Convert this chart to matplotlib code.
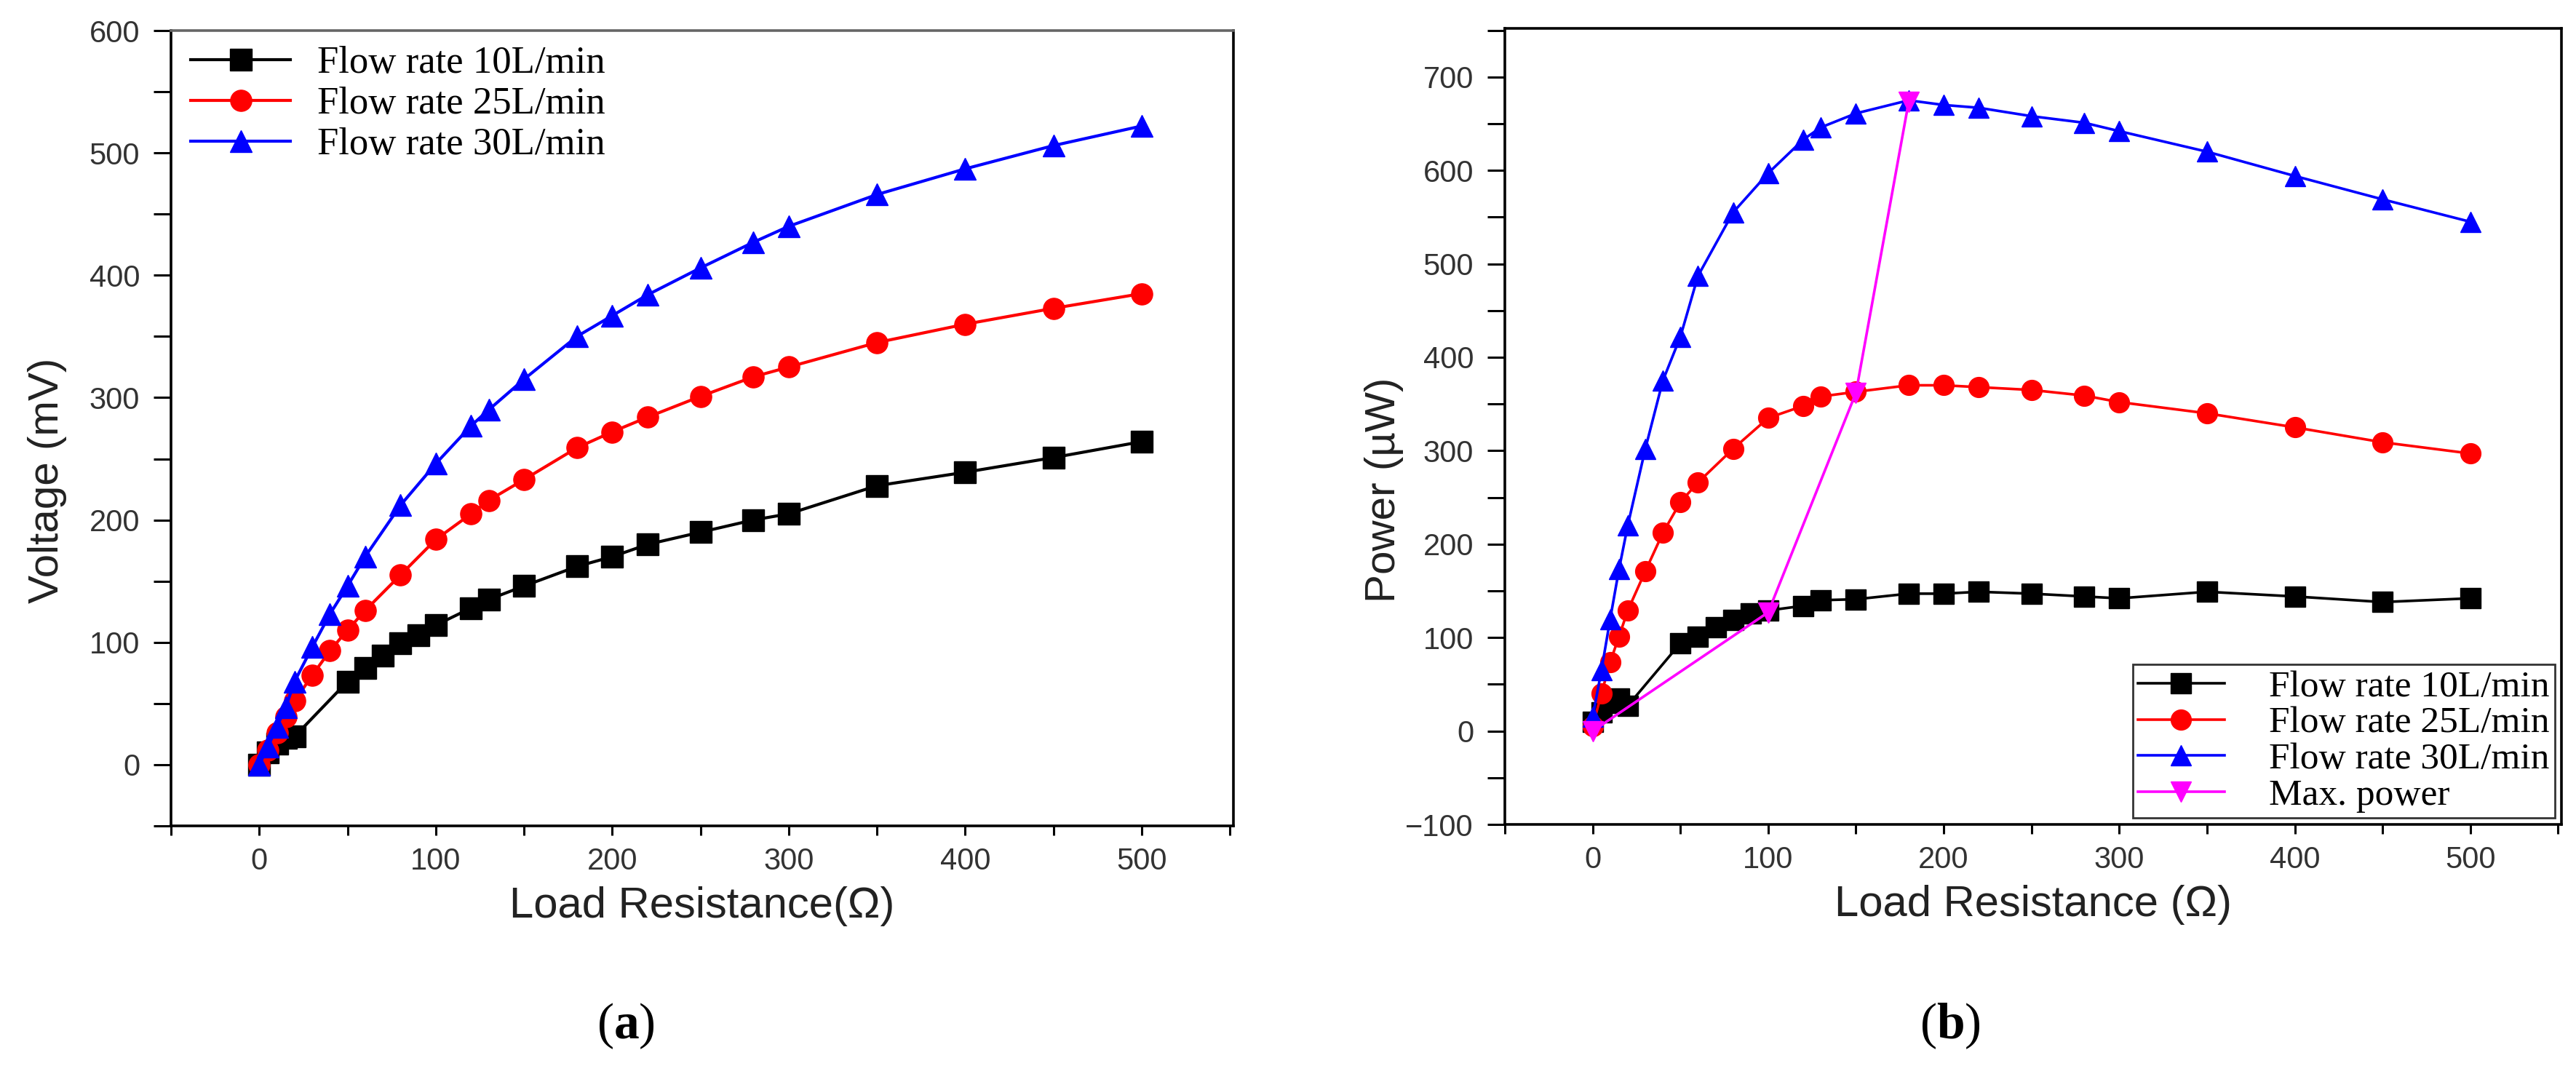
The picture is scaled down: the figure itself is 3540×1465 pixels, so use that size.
import matplotlib
matplotlib.use("Agg")
import matplotlib.pyplot as plt
import numpy as np

# Load resistance (ohm) for each flow rate
r_10 = [0, 5, 10, 15, 20, 50, 60, 70, 80, 90, 100, 120, 130, 150, 180, 200, 220, 250, 280, 300, 350, 400, 450, 500]
r_25 = [0, 5, 10, 15, 20, 30, 40, 50, 60, 80, 100, 120, 130, 150, 180, 200, 220, 250, 280, 300, 350, 400, 450, 500]
r_30 = [0, 5, 10, 15, 20, 30, 40, 50, 60, 80, 100, 120, 130, 150, 180, 200, 220, 250, 280, 300, 350, 400, 450, 500]

# (a) voltage, mV
v_10 = [0, 10, 17, 22, 23, 68, 79, 89, 99, 106, 114, 128, 135, 146, 162, 170, 180, 190, 200, 205, 228, 239, 251, 264]
v_25 = [0, 12, 26, 39, 52, 73, 93, 110, 126, 155, 184, 205, 216, 233, 259, 272, 284, 301, 317, 325, 345, 360, 373, 385]
v_30 = [0, 15, 31, 47, 68, 96, 123, 146, 170, 212, 246, 277, 290, 315, 350, 367, 384, 406, 427, 440, 466, 487, 506, 522]

# (b) power, uW
p_10 = [10, 20, 30, 35, 27, 94, 101, 111, 119, 126, 129, 134, 140, 141, 147, 147, 149, 147, 144, 142, 149, 144, 138, 142]
p_25 = [5, 40, 74, 101, 129, 171, 212, 245, 266, 302, 335, 348, 358, 363, 370, 370, 368, 365, 359, 352, 340, 325, 309, 297]
p_30 = [15, 65, 120, 173, 220, 302, 375, 422, 487, 555, 597, 633, 646, 661, 675, 670, 667, 658, 651, 642, 620, 594, 569, 545]

# maximum power points
r_max = [0, 100, 150, 180]
p_max = [0, 127, 362, 673]

labels = ["Flow rate 10L/min", "Flow rate 25L/min", "Flow rate 30L/min"]
colors = ["#000000", "#ff0000", "#0000ff"]
markers = ["s", "o", "^"]

SANS = "Liberation Sans"
SERIF = "Liberation Serif"
plt.rcParams["font.family"] = SANS
plt.rcParams["mathtext.fontset"] = "custom"
plt.rcParams["mathtext.rm"] = SERIF
plt.rcParams["mathtext.bf"] = SERIF + ":bold"

fig = plt.figure(figsize=(35.4, 14.65), dpi=100)
ax1 = fig.add_axes([0.0664, 0.2253, 0.4124, 0.746])
ax2 = fig.add_axes([0.5842, 0.2266, 0.4102, 0.7468])


def style_axes(ax, ymaj, ymin):
    ax.set_xlim(-50, 552)
    ax.set_xticks(np.arange(0, 501, 100))
    ax.set_xticks(np.arange(-50, 551, 100), minor=True)
    ax.set_yticks(ymaj)
    ax.set_yticks(ymin, minor=True)
    for s in ax.spines.values():
        s.set_linewidth(2.6)
    ax.tick_params(axis="x", which="both", direction="out", length=9, width=2.2,
                   pad=12, labelsize=30, labelcolor="#333333")
    ax.tick_params(axis="y", which="both", direction="out", length=17, width=2.2,
                   pad=14, labelsize=30, labelcolor="#333333")


# (a) voltage
for r, v, lab, c, m in zip([r_10, r_25, r_30], [v_10, v_25, v_30], labels, colors, markers):
    ax1.plot(r, v, color=c, marker=m, markersize=21, linewidth=3.0, label=lab)
ax1.set_ylim(-50, 600)
style_axes(ax1, np.arange(0, 601, 100), np.arange(-50, 600, 100))
ax1.spines["top"].set_color("#666666")
ax1.set_xlabel("Load Resistance(Ω)", fontsize=43, color="#222222", labelpad=10)
ax1.set_ylabel("Voltage (mV)", fontsize=42, color="#222222")
ax1.yaxis.set_label_coords(-0.098, 0.434)
leg1 = ax1.legend(loc="upper left", bbox_to_anchor=(0.004, 1.0), borderaxespad=0,
                  frameon=False, prop={"family": SERIF, "size": 38}, numpoints=1,
                  handlelength=2.6, handletextpad=0.7, labelspacing=0.15, borderpad=0.4)

# (b) power
for r, p, lab, c, m in zip([r_10, r_25, r_30], [p_10, p_25, p_30], labels, colors, markers):
    ax2.plot(r, p, color=c, marker=m, markersize=20, linewidth=2.6, label=lab)
ax2.plot(r_max, p_max, color="#ff00ff", marker="v", markersize=20, linewidth=2.6,
         label="Max. power")
ax2.set_ylim(-100, 752)
style_axes(ax2, np.arange(-100, 701, 100), np.arange(-50, 751, 100))
ax2.set_xlabel("Load Resistance (Ω)", fontsize=43, color="#222222", labelpad=10)
ax2.set_ylabel("Power (µW)", fontsize=42, color="#222222")
ax2.yaxis.set_label_coords(-0.096, 0.42)
leg2 = ax2.legend(loc="lower right", bbox_to_anchor=(0.994, 0.008), borderaxespad=0,
                  prop={"family": SERIF, "size": 37}, numpoints=1, fancybox=False,
                  handlelength=2.3, handletextpad=1.2, labelspacing=0.05, borderpad=0.15,
                  edgecolor="#333333", framealpha=1)
leg2.get_frame().set_linewidth(2.0)

fig.text(0.2429, 0.0375, r"($\mathbf{a}$)", fontsize=50, family=SERIF, ha="center", va="center")
fig.text(0.757, 0.0375, r"($\mathbf{b}$)", fontsize=50, family=SERIF, ha="center", va="center")

fig.savefig("out.png", dpi=100)
